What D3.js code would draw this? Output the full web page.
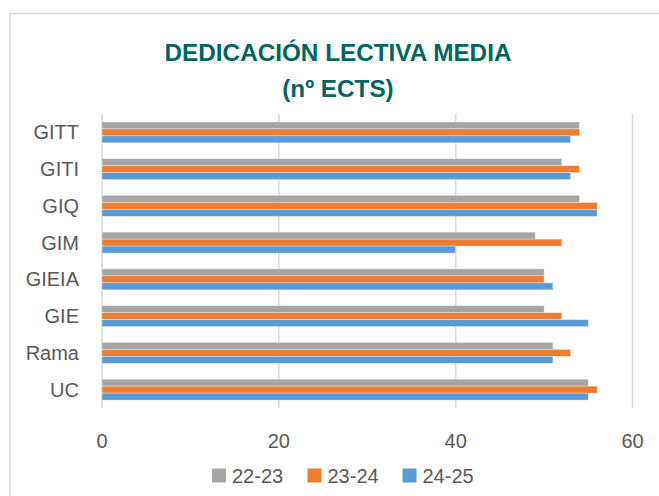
<!DOCTYPE html>
<html><head><meta charset="utf-8">
<script src="https://cdn.jsdelivr.net/npm/d3@7"></script>
<style>body{margin:0;background:#fff}svg{display:block}</style>
</head><body>
<svg id="chart" width="659" height="496"></svg>
<script>
const categories = ["GITT","GITI","GIQ","GIM","GIEIA","GIE","Rama","UC"];
const seriesNames = ["22-23","23-24","24-25"];
const s2223 = [54,52,54,49,50,50,51,55];
const s2324 = [54,54,56,52,50,52,53,56];
const s2425 = [53,53,56,40,51,55,51,55];
const xTicks = [0,20,40,60];
const colors = ["#A5A5A5","#ED7D31","#5B9BD5"];
const titleLines = ["DEDICACIÓN LECTIVA MEDIA","(nº ECTS)"];

(function(){
const series = [s2223,s2324,s2425];
const svg = d3.select("#chart");
const font = "'Liberation Sans', Arial, sans-serif";
const textColor = "#595959";

// outer border
svg.append("rect").attr("x",10).attr("y",13.5).attr("width",660).attr("height",500)
  .attr("fill","none").attr("stroke","#d9d9d9").attr("stroke-width",1.5);

const pl = 102, pr = 632.5, pt = 114, pb = 408;
const x = d3.scaleLinear().domain([0,60]).range([pl,pr]);
const y = d3.scaleBand().domain(categories).range([pt,pb]).paddingInner(0.43).paddingOuter(0.215);
const yInner = d3.scaleBand().domain(seriesNames).range([0,y.bandwidth()]);

// gridlines
svg.append("g").selectAll("line").data(xTicks).join("line")
  .attr("x1",d=>x(d)).attr("x2",d=>x(d)).attr("y1",pt).attr("y2",pb)
  .attr("stroke","#d9d9d9").attr("stroke-width",1.5);

// bars
const g = svg.append("g");
categories.forEach((c,i)=>{
  series.forEach((s,j)=>{
    g.append("rect")
      .attr("x",x(0)).attr("y",y(c)+yInner(seriesNames[j]))
      .attr("width",x(s[i])-x(0)).attr("height",yInner.bandwidth())
      .attr("fill",colors[j]).attr("stroke","#ffffff").attr("stroke-opacity",0.6).attr("stroke-width",0.6);
  });
});

// category labels
svg.append("g").selectAll("text").data(categories).join("text")
  .attr("x",79).attr("y",d=>y(d)+y.bandwidth()/2).attr("dy","0.35em")
  .attr("text-anchor","end").attr("font-family",font).attr("font-size",20).attr("fill",textColor)
  .text(d=>d);

// x tick labels
svg.append("g").selectAll("text").data(xTicks).join("text")
  .attr("x",d=>x(d)).attr("y",447.5).attr("text-anchor","middle")
  .attr("font-family",font).attr("font-size",20).attr("fill",textColor).text(d=>d);

// title
svg.append("g").selectAll("text").data(titleLines).join("text")
  .attr("x",338).attr("y",(d,i)=>61+i*35.5).attr("text-anchor","middle")
  .attr("font-family",font).attr("font-weight","bold").attr("font-size",24.3).attr("fill","#00665E")
  .text(d=>d);

// legend
const legendX = [212,307.5,402.5];
const lg = svg.append("g");
seriesNames.forEach((n,j)=>{
  lg.append("rect").attr("x",legendX[j]).attr("y",468.5).attr("width",14).attr("height",14).attr("fill",colors[j]);
  lg.append("text").attr("x",legendX[j]+20).attr("y",482.5).attr("font-family",font).attr("font-size",20)
    .attr("fill",textColor).text(n);
});
})();
</script>
</body></html>
